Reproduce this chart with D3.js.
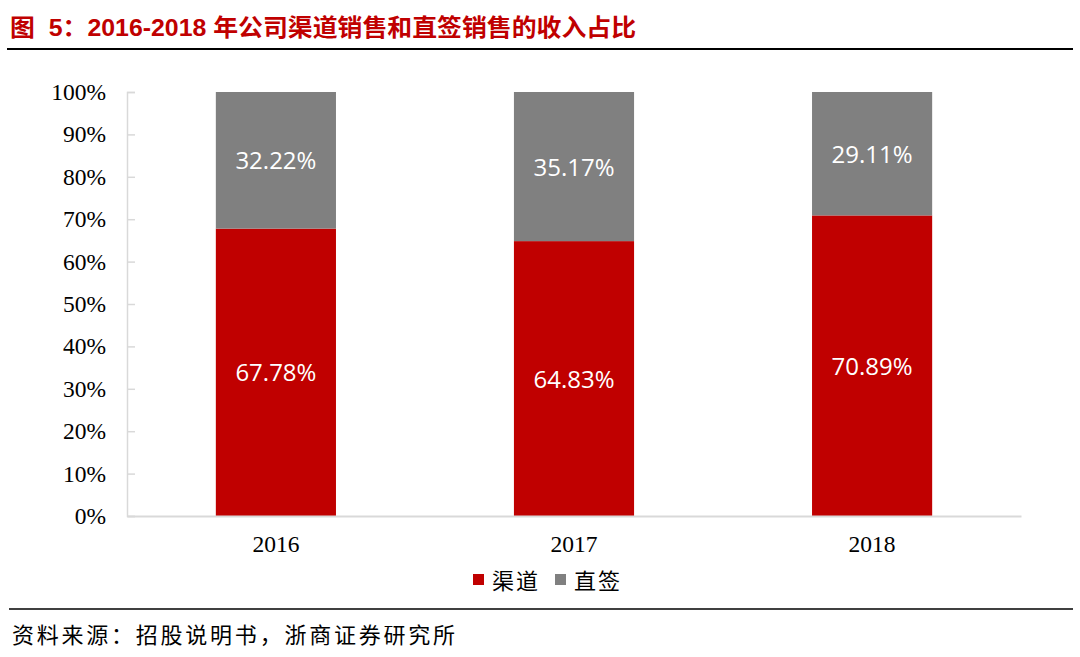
<!DOCTYPE html>
<html><head><meta charset="utf-8">
<script src="https://cdn.jsdelivr.net/npm/d3@7"></script>
<style>body{margin:0;background:#fff;} svg{display:block;}</style>
</head><body>
<svg id="c" width="1080" height="657"></svg>
<script>
const categories = ["2016", "2017", "2018"];
const channelValues = [67.78, 64.83, 70.89];
const directValues = [32.22, 35.17, 29.11];
const seriesNames = ["渠道", "直签"];
const yTicks = [0, 10, 20, 30, 40, 50, 60, 70, 80, 90, 100];
const colors = ["#C00000", "#808080"];

const svg = d3.select("#c");
svg.append("text").attr("x", 10).attr("y", 36)
  .attr("font-family", "'Liberation Sans','Noto Sans CJK SC',sans-serif")
  .attr("font-weight", "bold").attr("font-size", 24).attr("fill", "#C00000")
  .attr("textLength", 626).attr("lengthAdjust", "spacingAndGlyphs")
  .attr("xml:space", "preserve")
  .text("图  5：2016-2018 年公司渠道销售和直签销售的收入占比");
svg.append("line").attr("x1", 7).attr("x2", 1073).attr("y1", 49).attr("y2", 49)
  .attr("stroke", "#000").attr("stroke-width", 2);

const x = d3.scaleBand().domain(categories).range([127, 1021]).paddingInner(0.597).paddingOuter(0.298);
const y = d3.scaleLinear().domain([0, 100]).range([516, 92]);

const stackData = categories.map((c, i) => ({cat: c, a: channelValues[i], b: directValues[i]}));
const stack = d3.stack().keys(["a", "b"])(stackData);

const g = svg.append("g");
stack.forEach((layer, li) => {
  g.selectAll(null).data(layer).join("rect")
    .attr("x", d => x(d.data.cat)).attr("width", x.bandwidth())
    .attr("y", d => y(d[1])).attr("height", d => y(d[0]) - y(d[1]))
    .attr("fill", colors[li]);
  g.selectAll(null).data(layer).join("text")
    .attr("x", d => x(d.data.cat) + x.bandwidth() / 2)
    .attr("y", d => (y(d[0]) + y(d[1])) / 2 + 9)
    .attr("text-anchor", "middle").attr("fill", "#fff")
    .attr("font-family", "'Open Sans',sans-serif").attr("font-size", 24)
    .text(d => (d[1] - d[0]).toFixed(2) + "%");
});

// y axis
const yAxis = svg.append("g").attr("transform", "translate(127,0)")
  .call(d3.axisRight(y).tickValues(yTicks).tickSize(8).tickFormat(() => ""));
yAxis.select(".domain").attr("stroke", "#D9D9D9").attr("stroke-width", 1.5);
yAxis.selectAll(".tick line").attr("stroke", "#D9D9D9").attr("stroke-width", 1.5);
svg.append("g").selectAll("text").data(yTicks).join("text")
  .attr("x", 106).attr("y", d => y(d) + 8).attr("text-anchor", "end")
  .attr("font-family", "'Liberation Serif',serif").attr("font-size", 23.5).attr("fill", "#000")
  .text(d => d + "%");

// x axis
const xAxis = svg.append("g").attr("transform", "translate(0,516)")
  .call(d3.axisBottom(x).tickSize(0).tickPadding(19));
xAxis.select(".domain").attr("stroke", "#D9D9D9").attr("stroke-width", 2);
xAxis.selectAll("text").attr("font-family", "'Liberation Serif',serif").attr("font-size", 23.5).attr("fill", "#000");

// legend
const leg = svg.append("g");
const legX = [473, 555];
seriesNames.forEach((n, i) => {
  leg.append("rect").attr("x", legX[i]).attr("y", 574).attr("width", 11).attr("height", 11).attr("fill", colors[i]);
  leg.append("text").attr("x", legX[i] + 19).attr("y", 589)
    .attr("font-family", "'Noto Sans CJK SC',sans-serif").attr("font-size", 22).attr("fill", "#000")
    .attr("letter-spacing", 2)
    .text(n);
});

svg.append("line").attr("x1", 9).attr("x2", 1073).attr("y1", 609).attr("y2", 609)
  .attr("stroke", "#000").attr("stroke-width", 1.5);
svg.append("text").attr("x", 12).attr("y", 643)
  .attr("font-family", "'Noto Sans CJK SC',sans-serif").attr("font-size", 22).attr("fill", "#000")
  .attr("textLength", 443).attr("lengthAdjust", "spacing")
  .text("资料来源：招股说明书，浙商证券研究所");
</script>
</body></html>
